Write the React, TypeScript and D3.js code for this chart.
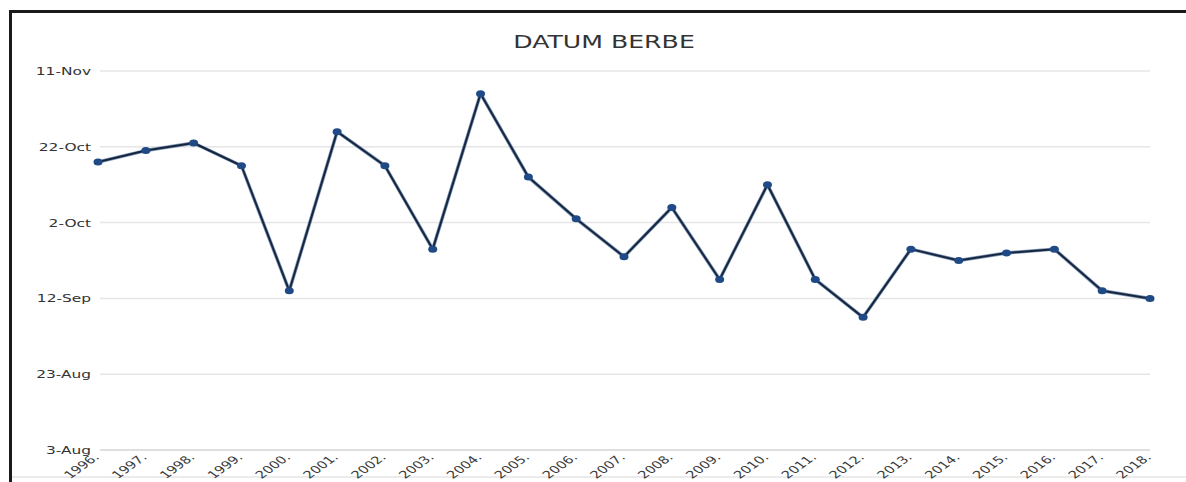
import React from "react";
import * as d3 from "d3";

const title = "DATUM BERBE";
const years = [
  "1996", "1997", "1998", "1999", "2000", "2001", "2002", "2003", "2004", "2005", "2006",
  "2007", "2008", "2009", "2010", "2011", "2012", "2013", "2014", "2015", "2016", "2017", "2018",
];
const harvestDates = [
  "18-Oct", "21-Oct", "23-Oct", "17-Oct", "14-Sep", "26-Oct", "17-Oct", "25-Sep", "5-Nov", "14-Oct", "3-Oct",
  "23-Sep", "6-Oct", "17-Sep", "12-Oct", "17-Sep", "7-Sep", "25-Sep", "22-Sep", "24-Sep", "25-Sep", "14-Sep", "12-Sep",
];
const yTickLabels = ["3-Aug", "23-Aug", "12-Sep", "2-Oct", "22-Oct", "11-Nov"];

const W = 1186;
const H = 482;
const parse = d3.utcParse("%d-%b");
const SX = 1.4; // horizontal stretch of text

export default function App() {
  const x = d3.scalePoint<string>().domain(years).range([98, 1150]);
  const tickDates = yTickLabels.map((t) => parse(t) as Date);
  const y = d3
    .scaleUtc()
    .domain([tickDates[0], tickDates[tickDates.length - 1]])
    .range([450, 71]);

  const pts = years.map((yr, i) => [x(yr) as number, y(parse(harvestDates[i]) as Date)] as [number, number]);
  const line = d3.line<[number, number]>()(pts) || "";

  return (
    <svg
      width={W}
      height={H}
      style={{ position: "absolute", left: 0, top: 0, display: "block", background: "#fff" }}
      fontFamily="'DejaVu Sans', Arial, sans-serif"
    >
      <rect x={0} y={0} width={W} height={H} fill="#fff" />
      {/* frame */}
      <rect x={10.5} y={11.5} width={W + 20} height={H + 20} fill="none" stroke="#1a1a1a" strokeWidth={3} />
      <line x1={12} x2={W} y1={477} y2={477} stroke="#d8d8d8" strokeWidth={1} />

      {/* title */}
      <g transform={`translate(${604},${48}) scale(${SX},1)`}>
        <text textAnchor="middle" fontSize={18} fill="#333">
          {title}
        </text>
      </g>

      {/* gridlines & y labels */}
      {yTickLabels.map((lab, i) => {
        const yy = y(tickDates[i]);
        return (
          <g key={lab}>
            <line x1={100} x2={1150} y1={yy} y2={yy} stroke={i === 0 ? "#d4d4d4" : "#e6e6e6"} strokeWidth={1.5} />
            <g transform={`translate(${91},${yy + 4}) scale(${SX},1)`}>
              <text textAnchor="end" fontSize={11} fill="#333">
                {lab}
              </text>
            </g>
          </g>
        );
      })}

      {/* x labels */}
      {years.map((yr) => {
        const xx = x(yr) as number;
        return (
          <g key={yr} transform={`translate(${xx + 2},${458}) scale(${SX},1) rotate(-45)`}>
            <text textAnchor="end" fontSize={10.5} fill="#3a3a3a">
              {yr + "."}
            </text>
          </g>
        );
      })}

      {/* line */}
      <path d={line} fill="none" stroke="#2a5590" strokeWidth={3.5} strokeLinejoin="round" opacity={0.6} />
      <path d={line} fill="none" stroke="#17263d" strokeWidth={2} strokeLinejoin="round" />
      {pts.map(([px, py], i) => (
        <ellipse key={years[i]} cx={px} cy={py} rx={4.5} ry={3.5} fill="#1f4a86" />
      ))}
    </svg>
  );
}
